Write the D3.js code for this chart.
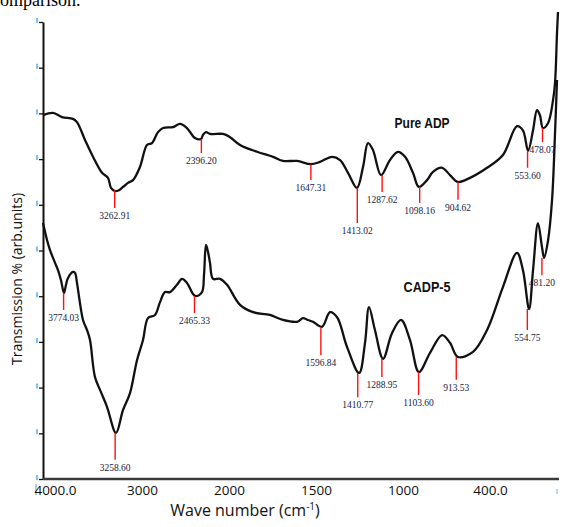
<!DOCTYPE html>
<html>
<head>
<meta charset="utf-8">
<script src="https://cdn.jsdelivr.net/npm/d3@7/dist/d3.min.js"></script>
<style>
  body { margin: 0; background: #fff; }
  svg { display: block; }
</style>
</head>
<body>
<div id="vue"></div>
<script>
var width = 570, height = 527;

// Pure ADP spectrum (wavenumber cm-1, transmission arb. units)
var wnTop = [3980, 3880, 3790, 3680, 3640, 3560, 3480, 3390, 3330, 3300, 3260, 3220, 3180, 3130, 3080, 3010,
  2940, 2890, 2830, 2780, 2680, 2610, 2540, 2460, 2400, 2380, 2350, 2310, 2180, 2110, 2010,
  1919, 1838, 1788, 1717, 1647, 1601, 1541, 1500, 1460, 1415, 1384, 1359, 1334, 1293, 1248, 1208,
  1172, 1132, 1102, 1061, 1031, 985, 945, 905, 844, 758, 678, 607, 577, 551, 526, 506, 491, 476,
  450, 425, 415, 405, 400];
var trTop = [79.6, 80.1, 79.2, 78.8, 78.1, 74.2, 70.5, 67.0, 65.9, 63.7, 63.0, 63.2, 63.9, 64.8, 65.4, 68.3,
  73.1, 73.5, 75.9, 76.8, 77.0, 77.7, 76.8, 74.6, 74.4, 75.3, 75.9, 75.5, 75.5, 74.8, 73.1,
  71.6, 70.5, 69.6, 69.6, 68.9, 69.4, 70.5, 69.8, 67.0, 63.7, 68.3, 73.5, 72.0, 66.5, 69.8, 71.6,
  70.5, 67.0, 63.9, 65.4, 67.2, 68.1, 66.5, 65.0, 65.9, 68.1, 70.9, 77.2, 76.3, 71.8, 76.3, 80.7, 79.6, 76.8,
  77.9, 82.9, 86.7, 97.6, 102.2];

// CADP-5 spectrum
var wnBot = [3980, 3940, 3910, 3860, 3830, 3800, 3770, 3750, 3730, 3680, 3660, 3640, 3580, 3540, 3510, 3460,
  3400, 3340, 3250, 3180, 3110, 3040, 2980, 2930, 2860, 2810, 2760, 2710, 2640, 2590, 2540, 2480,
  2450, 2390, 2370, 2350, 2330, 2310, 2280, 2210, 2140, 2010,
  1939, 1854, 1788, 1717, 1687, 1662, 1637, 1591, 1551, 1515, 1465, 1404, 1374, 1354, 1324, 1283,
  1238, 1192, 1147, 1102, 1046, 985, 945, 905, 829, 758, 678, 607, 577, 546, 526, 501, 481, 470,
  450, 430, 415, 405];
var trBot = [56.0, 52.3, 50.1, 47.3, 45.7, 43.5, 40.7, 42.5, 44.0, 45.3, 45.1, 42.9, 34.8, 32.6, 30.4, 22.3,
  19.0, 15.8, 10.1, 15.1, 18.8, 26.0, 30.4, 35.2, 35.9, 38.7, 40.9, 40.9, 42.5, 43.8, 42.9, 40.5,
  40.0, 40.9, 44.6, 51.2, 49.7, 47.3, 43.8, 43.8, 42.5, 38.1,
  36.5, 35.9, 34.8, 34.4, 35.2, 34.8, 34.4, 33.3, 36.5, 35.4, 28.9, 23.2, 29.8, 37.6, 32.6, 26.3,
  31.9, 34.8, 30.4, 23.4, 27.6, 31.5, 29.8, 26.7, 27.8, 32.6, 42.0, 49.5, 45.7, 37.2, 45.7, 56.0, 50.8, 48.4,
  52.3, 61.1, 75.7, 87.3];

// peak annotations: wavenumber, transmission at the dip, bottom of the red marker
var peaksTop = [3262.91, 2396.20, 1647.31, 1413.02, 1287.62, 1098.16, 904.62, 553.60, 478.07];
var peakTrTop = [63.2, 74.4, 68.9, 63.7, 66.5, 63.9, 65.0, 71.8, 76.8];
var peakEndTop = [59.3, 71.3, 65.4, 56.0, 62.8, 60.4, 61.1, 68.1, 73.7];

var peaksBot = [3774.03, 3258.60, 2465.33, 1596.84, 1410.77, 1288.95, 1103.60, 913.53, 554.75, 481.20];
var peakTrBot = [40.7, 10.1, 40.0, 33.3, 23.2, 26.3, 23.4, 26.7, 37.2, 48.4];
var peakEndBot = [37.0, 4.2, 36.3, 27.1, 17.9, 22.3, 18.4, 21.7, 32.6, 44.6];

var seriesNames = ["Pure ADP", "CADP-5"];
var seriesNameTr = [76.8, 41.0];
var seriesNameWn = [1086, 1061];

// printed axis labels (evenly spaced in the source figure)
var xTickLabels = ["4000.0", "3000", "2000", "1500", "1000", "400.0"];

var axisX = 43, axisY = 479;

// scale break at 2000 cm-1 : the low range is stretched x2
var x = d3.scaleLinear().domain([4000, 2000, 400]).range([41, 241, 558]);
var y = d3.scaleLinear().domain([0, 100]).range([axisY, 22]);
var xLab = d3.scalePoint().domain(xTickLabels).range([55, 490]);

var svg = d3.select("#vue").append("svg")
  .attr("width", width)
  .attr("height", height);

// bit of text from the page above the figure
svg.append("text")
  .attr("x", -8).attr("y", 6)
  .attr("font-family", "Liberation Serif, serif")
  .attr("font-size", 18)
  .text("comparison.");

// little blue scan marks left of the y ticks
svg.append("g").selectAll("line")
  .data(y.ticks(10))
  .join("line")
  .attr("x1", 37).attr("x2", 37)
  .attr("y1", function(d) { return y(d) - 4; })
  .attr("y2", function(d) { return y(d) + 1; })
  .attr("stroke", "#5fb0f0").attr("stroke-width", 1.6);
svg.append("line").attr("x1", 36).attr("x2", 36).attr("y1", 484).attr("y2", 495)
  .attr("stroke", "#8fb4d4").attr("stroke-width", 1.4);
svg.append("line").attr("x1", 557).attr("x2", 557).attr("y1", 489).attr("y2", 494)
  .attr("stroke", "#a9c8e0").attr("stroke-width", 1.5);

// y axis
var yAxis = svg.append("g")
  .attr("transform", "translate(" + axisX + ",0)")
  .call(d3.axisLeft(y).ticks(10).tickSize(4).tickSizeOuter(0).tickFormat(""));
yAxis.select(".domain").attr("stroke", "#111").attr("stroke-width", 2);
yAxis.selectAll(".tick line").attr("stroke", "#111").attr("stroke-width", 1.3);

// x axis line + printed labels
svg.append("line")
  .attr("x1", axisX).attr("x2", 559)
  .attr("y1", axisY).attr("y2", axisY)
  .attr("stroke", "#3a3a3a").attr("stroke-width", 2.5);

var xAxis = svg.append("g")
  .attr("transform", "translate(0," + (axisY + 2) + ")")
  .call(d3.axisBottom(xLab).tickSize(0).tickPadding(4));
xAxis.select(".domain").remove();
xAxis.selectAll("text")
  .attr("font-family", "Open Sans, sans-serif")
  .attr("font-size", 13.5)
  .attr("fill", "#111");

// axis titles
var xt = svg.append("text")
  .attr("x", 245).attr("y", 516)
  .attr("text-anchor", "middle")
  .attr("font-family", "Open Sans, sans-serif")
  .attr("font-size", 16)
  .attr("fill", "#111");
xt.append("tspan").text("Wave number (cm");
xt.append("tspan").attr("font-size", 10).attr("dy", -6).text("-1");
xt.append("tspan").attr("dy", 6).text(")");

svg.append("text")
  .attr("transform", "translate(22,279) rotate(-90)")
  .attr("text-anchor", "middle")
  .attr("font-family", "Open Sans, sans-serif")
  .attr("font-size", 14)
  .attr("fill", "#111")
  .text("Transmission % (arb.units)");

// spectra
var line = d3.line()
  .x(function(d) { return x(d[0]); })
  .y(function(d) { return y(d[1]); })
  .curve(d3.curveCatmullRom.alpha(0.5));

var spectra = [d3.zip(wnTop, trTop), d3.zip(wnBot, trBot)];
svg.append("g").selectAll("path")
  .data(spectra)
  .join("path")
  .attr("d", line)
  .attr("fill", "none")
  .attr("stroke", "#111")
  .attr("stroke-width", 2.3)
  .attr("stroke-linejoin", "round");

// peak markers
function drawPeaks(wn, tr, end) {
  var g = svg.append("g");
  var data = d3.zip(wn, tr, end);
  g.selectAll("line")
    .data(data)
    .join("line")
    .attr("x1", function(d) { return x(d[0]); })
    .attr("x2", function(d) { return x(d[0]); })
    .attr("y1", function(d) { return y(d[1]); })
    .attr("y2", function(d) { return y(d[2]); })
    .attr("stroke", "#ff1010")
    .attr("stroke-width", 1.4);
  g.selectAll("text")
    .data(data)
    .join("text")
    .attr("x", function(d) { return x(d[0]); })
    .attr("y", function(d) { return y(d[2]) + 11; })
    .attr("text-anchor", "middle")
    .attr("font-family", "Liberation Serif, serif")
    .attr("font-size", 9.5)
    .attr("fill", "#1a1a40")
    .text(function(d) { return d[0].toFixed(2); });
}
drawPeaks(peaksTop, peakTrTop, peakEndTop);
drawPeaks(peaksBot, peakTrBot, peakEndBot);

// series names
svg.append("g").selectAll("text")
  .data(d3.zip(seriesNames, seriesNameWn, seriesNameTr))
  .join("text")
  .attr("x", function(d) { return x(d[1]); })
  .attr("y", function(d) { return y(d[2]); })
  .attr("text-anchor", "middle")
  .attr("font-family", "Liberation Sans, Arial, sans-serif")
  .attr("font-size", 15.5)
  .attr("font-weight", "bold")
  .attr("fill", "#111")
  .attr("textLength", function(d) { return d[0].length > 6 ? 55 : 47; })
  .attr("lengthAdjust", "spacingAndGlyphs")
  .text(function(d) { return d[0]; });
</script>
</body>
</html>
